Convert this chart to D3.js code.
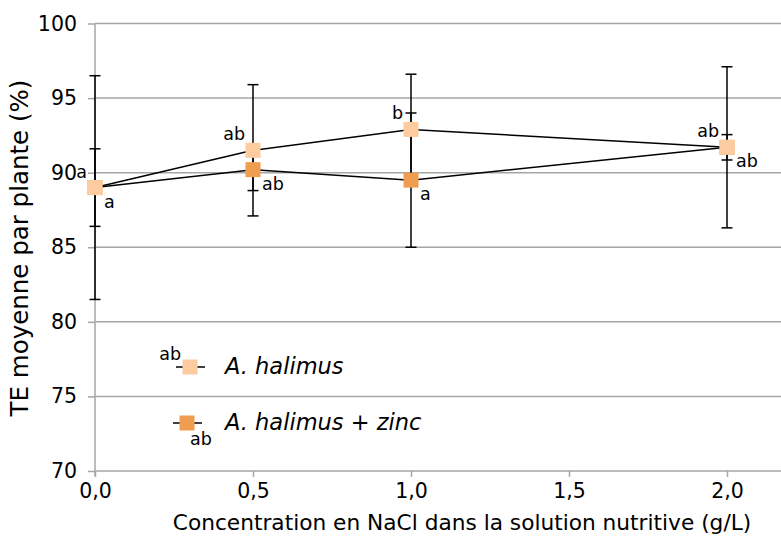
<!DOCTYPE html>
<html>
<head>
<meta charset="utf-8">
<script src="https://cdn.jsdelivr.net/npm/d3@7"></script>
<style>
  html, body { margin: 0; padding: 0; background: #fff; }
  svg { display: block; font-family: "DejaVu Sans", sans-serif; }
</style>
</head>
<body>
<svg id="chart" width="781" height="536"></svg>
<script>
// ---- data ----
const concentrations = [0.0, 0.5, 1.0, 2.0];
const halimus = [89.0, 91.5, 92.9, 91.7];
const halimusErr = [2.6, 4.4, 3.7, 0.85];
const halimusLetters = ["a", "ab", "b", "ab"];
const zinc = [89.0, 90.2, 89.5, 91.7];
const zincErr = [7.5, 1.4, 4.5, 5.4];
const zincLetters = ["a", "ab", "a", "ab"];
const xTicks = [0, 0.5, 1.0, 1.5, 2.0];
const yTicks = [70, 75, 80, 85, 90, 95, 100];
const seriesNames = ["A. halimus", "A. halimus + zinc"];
const legendLetters = ["ab", "ab"];

// ---- layout ----
const svg = d3.select("#chart");
const x0 = 95, x1 = 727, xRight = 781;
const x = d3.scaleLinear().domain([0, 2]).range([x0, x1]);
const y = d3.scaleLinear().domain([70, 100]).range([471, 23.5]);
const gridColor = "#a6a6a6";
const lightColor = "#fccb9f";
const darkColor = "#f09d4f";

const locale = d3.formatLocale({decimal: ",", thousands: ".", grouping: [3], currency: ["", ""]});
const fmtX = locale.format(".1f");

// gridlines
svg.append("g").selectAll("line").data(yTicks.filter(d => d > 70)).join("line")
  .attr("x1", x0).attr("x2", xRight)
  .attr("y1", d => y(d)).attr("y2", d => y(d))
  .attr("stroke", gridColor).attr("stroke-width", 1.5);

// y axis
const yAxis = svg.append("g").attr("transform", `translate(${x0},0)`)
  .call(d3.axisLeft(y).tickValues(yTicks).tickSize(7).tickPadding(11).tickSizeOuter(0));
yAxis.select(".domain").attr("stroke", gridColor).attr("stroke-width", 1.5)
  .attr("d", `M0,${y(100)}V${y(70) + 5}`);
yAxis.selectAll(".tick line").attr("stroke", gridColor).attr("stroke-width", 1.5);
yAxis.selectAll(".tick text").attr("font-size", 20.5).attr("fill", "#000")
  .attr("font-family", "DejaVu Sans");

// x axis
const xAxis = svg.append("g").attr("transform", `translate(0,${y(70)})`)
  .call(d3.axisBottom(x).tickValues(xTicks).tickFormat(fmtX).tickSize(6).tickPadding(6).tickSizeOuter(0));
xAxis.select(".domain").attr("stroke", gridColor).attr("stroke-width", 1.5)
  .attr("d", `M${x0},0H${xRight}`);
xAxis.selectAll(".tick line").attr("stroke", gridColor).attr("stroke-width", 1.5);
xAxis.selectAll(".tick text").attr("font-size", 20.5).attr("fill", "#000")
  .attr("font-family", "DejaVu Sans");

// axis titles
svg.append("text").attr("x", 462).attr("y", 530).attr("text-anchor", "middle")
  .attr("font-size", 21.7).attr("fill", "#000")
  .text("Concentration en NaCl dans la solution nutritive (g/L)");
svg.append("text").attr("transform", "translate(28,248) rotate(-90)").attr("text-anchor", "middle")
  .attr("font-size", 24.5).attr("fill", "#000")
  .text("TE moyenne par plante (%)");

// series
const series = [
  {vals: halimus, err: halimusErr, letters: halimusLetters, color: lightColor, pos: "ul"},
  {vals: zinc, err: zincErr, letters: zincLetters, color: darkColor, pos: "lr"}
];
const line = d3.line().x((d, i) => x(concentrations[i])).y(d => y(d));
const cap = 5.5, sq = 15;

// error bars
series.forEach(s => {
  const g = svg.append("g").attr("stroke", "#000").attr("stroke-width", 1.5);
  s.vals.forEach((v, i) => {
    const cx = x(concentrations[i]);
    const yt = y(v + s.err[i]), yb = y(v - s.err[i]);
    g.append("line").attr("x1", cx).attr("x2", cx).attr("y1", yt).attr("y2", yb);
    g.append("line").attr("x1", cx - cap).attr("x2", cx + cap).attr("y1", yt).attr("y2", yt);
    g.append("line").attr("x1", cx - cap).attr("x2", cx + cap).attr("y1", yb).attr("y2", yb);
  });
});
// lines
series.forEach(s => {
  svg.append("path").attr("d", line(s.vals)).attr("fill", "none")
    .attr("stroke", "#000").attr("stroke-width", 1.5);
});
// markers (dark first so light sits on top where overlapping)
[series[1], series[0]].forEach(s => {
  svg.append("g").selectAll("rect").data(s.vals).join("rect")
    .attr("x", (d, i) => x(concentrations[i]) - sq / 2)
    .attr("y", d => y(d) - sq / 2)
    .attr("width", sq).attr("height", sq)
    .attr("fill", s.color);
});
// letters
series.forEach(s => {
  svg.append("g").selectAll("text").data(s.vals).join("text")
    .attr("x", (d, i) => x(concentrations[i]) + (s.pos === "ul" ? -8 : 9))
    .attr("y", d => y(d) + (s.pos === "ul" ? -10 : 20))
    .attr("text-anchor", s.pos === "ul" ? "end" : "start")
    .attr("font-size", 17.5).attr("fill", "#000")
    .text((d, i) => s.letters[i]);
});

// legend
const legendY = [367, 423];
const legendX = [190, 187];
series.forEach((s, k) => {
  const g = svg.append("g");
  g.append("line").attr("x1", legendX[k] - 14).attr("x2", legendX[k] + 15)
    .attr("y1", legendY[k]).attr("y2", legendY[k]).attr("stroke", "#000").attr("stroke-width", 1.5);
  g.append("rect").attr("x", legendX[k] - sq / 2).attr("y", legendY[k] - sq / 2)
    .attr("width", sq).attr("height", sq).attr("fill", s.color);
  g.append("text")
    .attr("x", legendX[k] + (s.pos === "ul" ? -9 : 3))
    .attr("y", legendY[k] + (s.pos === "ul" ? -7 : 22))
    .attr("text-anchor", s.pos === "ul" ? "end" : "start")
    .attr("font-size", 17.5).attr("fill", "#000").text(legendLetters[k]);
  g.append("text").attr("x", 225).attr("y", legendY[k] + 7)
    .attr("font-size", 22.5).attr("font-style", "italic").attr("fill", "#000")
    .text(seriesNames[k]);
});
</script>
</body>
</html>
